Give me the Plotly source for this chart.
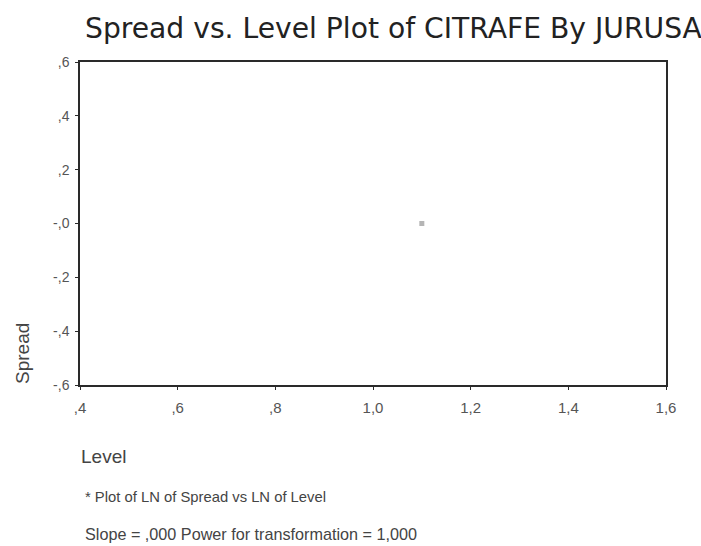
import plotly.graph_objects as go

# Data
level = [1.1]
spread = [0.0]

x_tickvals = [0.4, 0.6, 0.8, 1.0, 1.2, 1.4, 1.6]
x_ticktext = [",4", ",6", ",8", "1,0", "1,2", "1,4", "1,6"]
y_tickvals = [0.6, 0.4, 0.2, 0.0, -0.2, -0.4, -0.6]
y_ticktext = [",6", ",4", ",2", "-,0", "-,2", "-,4", "-,6"]

title_text = "Spread vs. Level Plot of CITRAFE By JURUSA"
note1 = "* Plot of LN of Spread vs LN of Level"
note2 = "Slope = ,000 Power for transformation = 1,000"

FONT = "Liberation Sans, Arial, sans-serif"
WIDE = "DejaVu Sans, sans-serif"

fig = go.Figure()
fig.add_trace(go.Scatter(
    x=level, y=spread, mode="markers",
    marker=dict(symbol="square", size=5, color="#b5b5b5"),
    showlegend=False, hoverinfo="skip",
))

W, H = 701, 546
L, R, T, B = 80, 666, 62, 385
PW, PH = R - L, B - T

axis_common = dict(
    showgrid=False, zeroline=False, showline=True, linecolor="#2a2a2a",
    linewidth=1.5, mirror=True, ticks="outside", ticklen=3,
    tickcolor="#2a2a2a",
)

fig.update_layout(
    width=W, height=H,
    paper_bgcolor="white", plot_bgcolor="white",
    margin=dict(l=L, r=W - R, t=T, b=H - B, pad=0),
    font=dict(family=FONT, color="#333"),
    xaxis=dict(
        range=[0.4, 1.6], tickvals=x_tickvals, ticktext=x_ticktext,
        tickfont=dict(size=15, color="#555"), ticklabelstandoff=5,
        **axis_common,
    ),
    yaxis=dict(
        range=[-0.6, 0.6], tickvals=y_tickvals, ticktext=y_ticktext,
        tickfont=dict(size=14, color="#555"), ticklabelstandoff=3,
        **axis_common,
    ),
    annotations=[
        dict(text=title_text, xref="paper", yref="paper",
             x=(83 - L) / PW, y=1 + (T - 28) / PH,
             xanchor="left", yanchor="middle", showarrow=False,
             font=dict(size=28.2, color="#222", family=WIDE)),
        dict(text="Spread", xref="paper", yref="paper",
             x=-(L - 22) / PW, y=(B - 354) / PH,
             xanchor="center", yanchor="middle", textangle=-90,
             showarrow=False, font=dict(size=19, color="#444", family=FONT)),
        dict(text="Level", xref="paper", yref="paper",
             x=-0.002, y=-(456 - B) / PH,
             xanchor="left", yanchor="middle", showarrow=False,
             font=dict(size=19, color="#444", family=FONT)),
        dict(text=note1, xref="paper", yref="paper",
             x=0.005, y=-(497 - B) / PH,
             xanchor="left", yanchor="middle", showarrow=False,
             font=dict(size=14.8, color="#444", family=FONT)),
        dict(text=note2, xref="paper", yref="paper",
             x=0.005, y=-(534 - B) / PH,
             xanchor="left", yanchor="middle", showarrow=False,
             font=dict(size=16.2, color="#444", family=FONT)),
    ],
)

fig.write_html(
    "out.html",
    config={"displayModeBar": False},
    post_script="document.body.style.margin='0';document.body.style.overflow='hidden';",
)
